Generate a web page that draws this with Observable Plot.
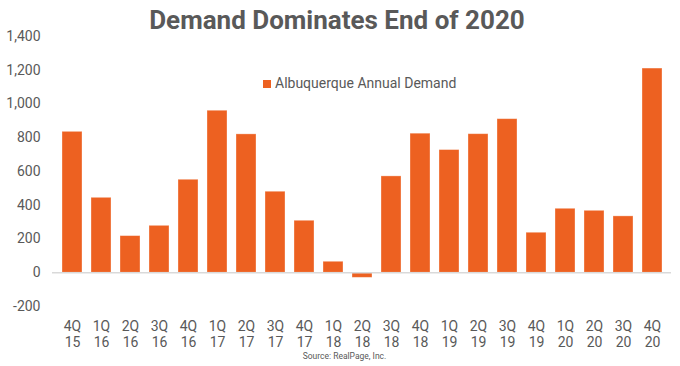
<!DOCTYPE html>
<html><head><meta charset="utf-8">
<script src="https://cdn.jsdelivr.net/npm/d3@7"></script>
<script src="https://cdn.jsdelivr.net/npm/@observablehq/plot@0.6"></script>
<style>
body{margin:0;background:#fff;font-family:Roboto,"Noto Sans",sans-serif;}
#wrap{position:relative;width:680px;height:366px;overflow:hidden;}
#title{position:absolute;left:0;width:674px;top:7px;text-align:center;font:bold 26px/26px Roboto,sans-serif;color:#595959;}
#legend{position:absolute;left:263px;top:76px;font:14px/14px Roboto,sans-serif;color:#595959;white-space:nowrap;}
#legend .sw{position:absolute;left:0;top:4px;width:8px;height:8px;background:#ED6121;}
#legend .lb{position:absolute;left:12px;top:0;}
#source{position:absolute;left:0;width:689px;top:352px;text-align:center;font:8.5px/9px Roboto,sans-serif;color:#595959;}
</style></head><body>
<div id="wrap"><div id="chart"></div>
<div id="title"></div>
<div id="legend"><span class="sw"></span><span class="lb"></span></div>
<div id="source"></div>
</div>
<script>
const titleText = "Demand Dominates End of 2020";
const seriesName = "Albuquerque Annual Demand";
const sourceText = "Source: RealPage, Inc.";
const quarters = ["4Q 15","1Q 16","2Q 16","3Q 16","4Q 16","1Q 17","2Q 17","3Q 17","4Q 17","1Q 18","2Q 18","3Q 18","4Q 18","1Q 19","2Q 19","3Q 19","4Q 19","1Q 20","2Q 20","3Q 20","4Q 20"];
const demand = [835, 444, 217, 278, 551, 960, 820, 480, 308, 65, -30, 571, 824, 727, 821, 910, 237, 379, 367, 334, 1210];
const yTicks = [-200, 0, 200, 400, 600, 800, 1000, 1200, 1400];
const barColor = "#ED6121";

const data = quarters.map((q, i) => ({quarter: q, demand: demand[i]}));

const chart = Plot.plot({
  width: 680, height: 366,
  marginTop: 36, marginBottom: 60, marginLeft: 52, marginRight: 9,
  style: {fontFamily: "Roboto, sans-serif", fontSize: "14px", color: "#595959", background: "white"},
  x: {domain: quarters, paddingInner: 0.32, paddingOuter: 0.16, axis: null},
  y: {domain: [-200, 1400], axis: null},
  marks: [
    Plot.barY(data, {x: "quarter", y: "demand", fill: barColor, stroke: "white", strokeOpacity: 0.4, strokeWidth: 0.8}),
    Plot.ruleY([0], {stroke: "#d9d9d9", strokeWidth: 1.5}),
    Plot.axisY({ticks: yTicks, tickSize: 0, tickPadding: 12, tickFormat: d => d.toLocaleString("en-US"), fontSize: 14, color: "#595959", label: null}),
    Plot.axisX({tickSize: 0, tickPadding: 13, tickFormat: d => d.replace(" ", "\n"), lineHeight: 1.15, fontSize: 14, color: "#595959", label: null})
  ]
});
document.getElementById("chart").append(chart);
document.getElementById("title").textContent = titleText;
document.querySelector("#legend .lb").textContent = seriesName;
document.getElementById("source").textContent = sourceText;
</script>
</body></html>
